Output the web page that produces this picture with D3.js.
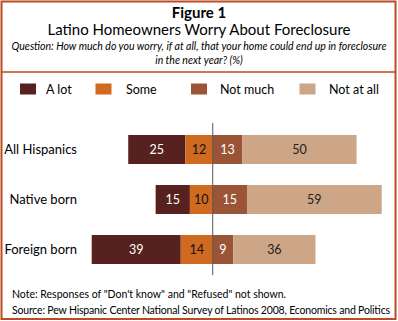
<!DOCTYPE html>
<html>
<head>
<meta charset="utf-8">
<script src="https://cdn.jsdelivr.net/npm/d3@7"></script>
<style>
  body { margin: 0; background: #fff; }
  svg { display: block; font-family: Lato, "Open Sans", sans-serif; }
</style>
</head>
<body>
<div id="chart"></div>
<script>
const categories = ["All Hispanics", "Native born", "Foreign born"];
const seriesNames = ["A lot", "Some", "Not much", "Not at all"];
const aLot = [25, 15, 39];
const some = [12, 10, 14];
const notMuch = [13, 15, 9];
const notAtAll = [50, 59, 36];

const colors = ["#56211f", "#d06a21", "#9b5435", "#cda687"];
const textColors = ["#fff", "#111", "#fff", "#222"];

const width = 398, height = 321;

const svg = d3.select("#chart").append("svg")
  .attr("width", width)
  .attr("height", height);

// frame
svg.append("rect")
  .attr("x", 1.5).attr("y", 1.5)
  .attr("width", 394).attr("height", 317.5)
  .attr("fill", "none")
  .attr("stroke", "#bd4a22")
  .attr("stroke-width", 2);
svg.append("line")
  .attr("x1", 1.5).attr("x2", 395.5)
  .attr("y1", 72).attr("y2", 72)
  .attr("stroke", "#bd4a22")
  .attr("stroke-width", 1.5);

// titles
svg.append("text")
  .attr("x", 199).attr("y", 18)
  .attr("text-anchor", "middle")
  .attr("font-size", 15).attr("font-weight", "bold")
  .text("Figure 1");
svg.append("text")
  .attr("x", 199).attr("y", 35)
  .attr("text-anchor", "middle")
  .attr("font-size", 15)
  .text("Latino Homeowners Worry About Foreclosure");
const q = svg.append("text")
  .attr("text-anchor", "middle")
  .attr("font-size", 10.5).attr("font-style", "italic");
q.append("tspan").attr("x", 199).attr("y", 50)
  .text("Question: How much do you worry, if at all, that your home could end up in foreclosure");
q.append("tspan").attr("x", 199).attr("y", 64)
  .text("in the next year? (%)");

// legend
const legendX = [20, 95.5, 191, 299.5];
const legendTextX = [46, 126, 220, 329];
seriesNames.forEach((name, i) => {
  svg.append("rect")
    .attr("x", legendX[i]).attr("y", 83.5)
    .attr("width", 16).attr("height", 11)
    .attr("fill", colors[i]);
  svg.append("text")
    .attr("x", legendTextX[i]).attr("y", 93.5)
    .attr("font-size", 12.5)
    .text(name);
});

// data in stacked form: left side goes negative from center
const rows = categories.map((c, i) => ({
  category: c,
  values: [aLot[i], some[i], notMuch[i], notAtAll[i]]
}));

const x = d3.scaleLinear()
  .domain([-53, 74])
  .range([91.7, 381.7]);

const y = d3.scaleBand()
  .domain(categories)
  .range([124.5, 274.5])
  .paddingInner(0.42)
  .paddingOuter(0.21);

rows.forEach((row) => {
  const [a, s, n, na] = row.values;
  const segs = [
    { start: -(a + s), end: -s, v: a },
    { start: -s, end: 0, v: s },
    { start: 0, end: n, v: n },
    { start: n, end: n + na, v: na }
  ];
  const g = svg.append("g");
  segs.forEach((seg, i) => {
    g.append("rect")
      .attr("x", x(seg.start))
      .attr("y", y(row.category))
      .attr("width", x(seg.end) - x(seg.start))
      .attr("height", y.bandwidth())
      .attr("fill", colors[i]);
    g.append("text")
      .attr("x", (x(seg.start) + x(seg.end)) / 2)
      .attr("y", y(row.category) + y.bandwidth() / 2)
      .attr("dy", "0.36em")
      .attr("text-anchor", "middle")
      .attr("font-size", 12.5)
      .attr("fill", textColors[i])
      .text(seg.v);
  });
  svg.append("text")
    .attr("x", 77)
    .attr("y", y(row.category) + y.bandwidth() / 2)
    .attr("dy", "0.36em")
    .attr("text-anchor", "end")
    .attr("font-size", 13)
    .text(row.category);
});

// zero line
svg.append("line")
  .attr("x1", x(0)).attr("x2", x(0))
  .attr("y1", 123).attr("y2", 275)
  .attr("stroke", "#555")
  .attr("stroke-width", 1);

// footnotes
svg.append("text")
  .attr("x", 12).attr("y", 297.5)
  .attr("font-size", 10.5)
  .text("Note: Responses of \"Don't know\" and \"Refused\" not shown.");
svg.append("text")
  .attr("x", 12).attr("y", 314)
  .attr("font-size", 10.5)
  .attr("textLength", 378)
  .text("Source: Pew Hispanic Center National Survey of Latinos 2008, Economics and Politics");
</script>
</body>
</html>
